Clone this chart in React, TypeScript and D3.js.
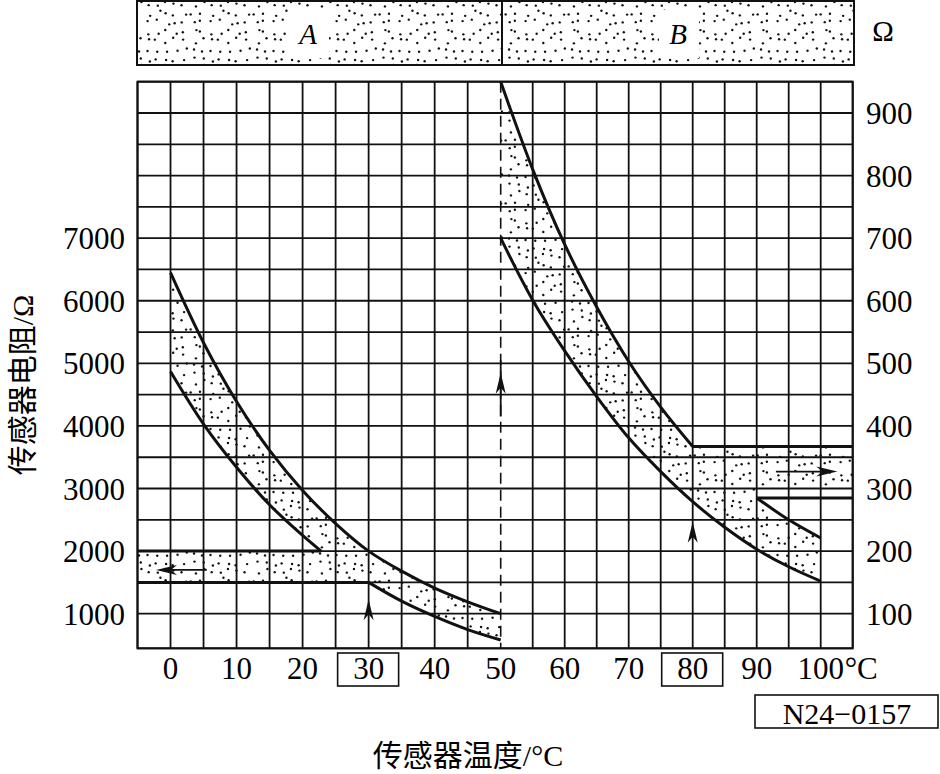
import React from 'react';
import * as d3 from 'd3';

// ---- axis ticks ----
const xTicks = [0, 10, 20, 30, 40, 50, 60, 70, 80, 90, 100];
const boxedTicks = [30, 80];
const leftTicks = [1000, 2000, 3000, 4000, 5000, 6000, 7000];
const rightTicks = [100, 200, 300, 400, 500, 600, 700, 800, 900];
const gridX = d3.range(-5, 106, 5);
const gridY = d3.range(500, 9501, 500);

// ---- sensor A (left axis, Ω) ----
const upperATemp = [0, 5, 10, 15, 20, 25, 30, 35, 40, 45, 50];
const upperAVal = [6450, 5330, 4390, 3610, 2970, 2440, 2000, 1680, 1410, 1190, 1000];
const lowerA1Temp = [0, 5, 10, 15, 20, 22.8];
const lowerA1Val = [4870, 4030, 3340, 2740, 2250, 2000];
const lowerA2Temp = [30, 35, 40, 45, 50];
const lowerA2Val = [1500, 1200, 960, 770, 620];
const bandA = { top: 2000, bottom: 1500, topEnd: 22.8, bottomEnd: 30 };

// ---- sensor B (right axis, Ω) ----
const upperBTemp = [50, 55, 60, 65, 70, 75, 80];
const upperBVal = [950, 810, 690, 590, 503, 430, 367];
const lowerBTemp = [50, 55, 60, 65, 70, 75, 80, 85, 90, 95, 100];
const lowerBVal = [700, 601, 520, 447, 381, 327, 279, 238, 203, 175, 152];
const upperB2Temp = [90, 95, 100];
const upperB2Val = [285, 250, 221];
const bandB = { top: 367, bottom: 300, start: 80, lowLine: 285, lowStart: 90 };

// ---- arrows ----
const upArrows = [
  { t: 30, tipL: 1230 },
  { t: 50, tipL: 4850 },
  { t: 80, tipL: 2470 },
];
const leftArrow = { from: 5.5, to: -2.2, v: 1700 };
const rightArrow = { from: 93, to: 102.6, v: 327 };

const FONT = '"Liberation Serif", "Times New Roman", serif';
const CJK = '"Liberation Serif", "Noto Sans CJK SC", serif';

// decorative stipple texture (not data)
function hash(a: number) {
  const v = Math.sin(a) * 43758.5453;
  return v - Math.floor(v);
}
const TILE = 63;
const dotCells = d3.range(49).map((k) => {
  const i = k % 7;
  const j = Math.floor(k / 7);
  return { cx: i * 9 + 1.5 + hash(k * 12.9898 + 1.3) * 6, cy: j * 9 + 1.5 + hash(k * 78.233 + 4.7) * 6 };
});

export default function App() {
  const x = d3.scaleLinear().domain([-5, 50, 105]).range([137.5, 500.7, 852.7]);
  const yL = d3.scaleLinear().domain([500, 1000, 9500]).range([648.3, 613.7, 81.7]);
  const yR = d3.scaleLinear().domain([50, 100, 950]).range([648.3, 613.7, 81.7]);

  const curve = d3.curveCatmullRom.alpha(0.5);
  const lineL = d3.line<[number, number]>().x((d) => x(d[0])).y((d) => yL(d[1])).curve(curve);
  const lineR = d3.line<[number, number]>().x((d) => x(d[0])).y((d) => yR(d[1])).curve(curve);

  const zip = (t: number[], v: number[]) => t.map((tt, i) => [tt, v[i]] as [number, number]);
  const upA = zip(upperATemp, upperAVal);
  const loA1 = zip(lowerA1Temp, lowerA1Val);
  const loA2 = zip(lowerA2Temp, lowerA2Val);
  const upB = zip(upperBTemp, upperBVal);
  const loB = zip(lowerBTemp, lowerBVal);
  const upB2 = zip(upperB2Temp, upperB2Val);

  const cont = (s: string | null) => 'L' + (s || '').slice(1);
  const P = (t: number, v: number, sc: any) => `L${x(t)},${sc(v)}`;

  const shadeA =
    lineL(upA) +
    cont(lineL([...loA2].reverse())) +
    P(-5, bandA.bottom, yL) +
    P(-5, bandA.top, yL) +
    P(bandA.topEnd, bandA.top, yL) +
    cont(lineL([...loA1].reverse())) +
    'Z';

  const shadeB =
    lineR(upB) +
    P(105, bandB.top, yR) +
    P(105, bandB.bottom, yR) +
    P(bandB.lowStart, bandB.bottom, yR) +
    P(bandB.lowStart, bandB.lowLine, yR) +
    cont(lineR(upB2)) +
    cont(lineR([...loB].reverse())) +
    'Z';

  const stroke = '#111';
  const arrowHead = (tx: number, ty: number, angle: number, key: string) => (
    <path
      key={key}
      d="M0,0 L-21,-5 L-15,0 L-21,5 Z"
      transform={`translate(${tx},${ty}) rotate(${angle})`}
      fill={stroke}
    />
  );

  const top = yL(9500);
  const bottom = yL(500);

  return (
    <svg width={940} height={774} style={{ position: 'absolute', left: 0, top: 0, background: '#fff' }}>
      <defs>
        <pattern id="dots" width={TILE} height={TILE} patternUnits="userSpaceOnUse">
          {dotCells.map((d, k) => (
            <circle key={k} cx={d.cx} cy={d.cy} r={1.2} fill="#111" />
          ))}
        </pattern>
      </defs>
      <rect x={0} y={0} width={940} height={774} fill="#fff" />

      {/* top legend bar */}
      <rect x={137} y={1} width={717} height={64} fill="url(#dots)" />
      <rect x={289} y={10} width={40} height={48} fill="#fff" />
      <rect x={659} y={10} width={40} height={48} fill="#fff" />
      <rect x={137} y={1} width={717} height={64} fill="none" stroke={stroke} strokeWidth={2} />
      <line x1={502} x2={502} y1={1} y2={65} stroke={stroke} strokeWidth={2} />
      <text x={308} y={44} fontFamily={FONT} fontStyle="italic" fontSize={29} textAnchor="middle">A</text>
      <text x={678} y={44} fontFamily={FONT} fontStyle="italic" fontSize={29} textAnchor="middle">B</text>
      <text x={883} y={41} fontFamily={FONT} fontSize={29} textAnchor="middle">Ω</text>

      {/* grid */}
      {gridY.map((v) => (
        <line key={'h' + v} x1={x(-5)} x2={x(105)} y1={yL(v)} y2={yL(v)} stroke={stroke} strokeWidth={1.8} />
      ))}
      {gridX.map((t) =>
        t === 50 ? (
          <line key={'v' + t} x1={x(t)} x2={x(t)} y1={top} y2={bottom} stroke={stroke} strokeWidth={1.6} strokeDasharray="11 6" />
        ) : (
          <line key={'v' + t} x1={x(t)} x2={x(t)} y1={top} y2={bottom} stroke={stroke} strokeWidth={1.8} />
        )
      )}

      {/* shading */}
      <path d={shadeA} fill="url(#dots)" stroke="none" />
      <path d={shadeB} fill="url(#dots)" stroke="none" />

      {/* curves */}
      <g fill="none" stroke={stroke} strokeWidth={3}>
        <path d={lineL(upA) || ''} />
        <path d={lineL(loA1) || ''} />
        <path d={lineL(loA2) || ''} />
        <line x1={x(-5)} x2={x(bandA.topEnd)} y1={yL(bandA.top)} y2={yL(bandA.top)} />
        <line x1={x(-5)} x2={x(bandA.bottomEnd)} y1={yL(bandA.bottom)} y2={yL(bandA.bottom)} />
        <path d={lineR(upB) || ''} />
        <path d={lineR(loB) || ''} />
        <path d={lineR(upB2) || ''} />
        <line x1={x(bandB.start)} x2={x(105)} y1={yR(bandB.top)} y2={yR(bandB.top)} />
        <line x1={x(bandB.lowStart)} x2={x(105)} y1={yR(bandB.lowLine)} y2={yR(bandB.lowLine)} />
      </g>

      {/* arrows */}
      <line x1={x(50)} x2={x(50)} y1={yL(5050)} y2={yL(4150)} stroke={stroke} strokeWidth={1.8} />
      {upArrows.map((a) => arrowHead(x(a.t), yL(a.tipL), -90, 'u' + a.t))}
      <line x1={x(leftArrow.from)} x2={x(leftArrow.to) + 10} y1={yL(leftArrow.v)} y2={yL(leftArrow.v)} stroke={stroke} strokeWidth={1.8} />
      {arrowHead(x(leftArrow.to), yL(leftArrow.v), 180, 'la')}
      <line x1={x(rightArrow.from)} x2={x(rightArrow.to) - 10} y1={yR(rightArrow.v)} y2={yR(rightArrow.v)} stroke={stroke} strokeWidth={1.8} />
      {arrowHead(x(rightArrow.to), yR(rightArrow.v), 0, 'ra')}

      {/* border */}
      <rect x={x(-5)} y={top} width={x(105) - x(-5)} height={bottom - top} fill="none" stroke={stroke} strokeWidth={2} />

      {/* ticks */}
      {leftTicks.map((v) => (
        <text key={'l' + v} x={125} y={yL(v) + 11} fontFamily={FONT} fontSize={31} textAnchor="end">{v}</text>
      ))}
      {rightTicks.map((v) => (
        <text key={'r' + v} x={866} y={yR(v) + 11} fontFamily={FONT} fontSize={31} textAnchor="start">{v}</text>
      ))}
      {xTicks.map((t) => (
        <text key={'x' + t} x={x(t)} y={679} fontFamily={FONT} fontSize={31} textAnchor="middle">{t}</text>
      ))}
      <text x={x(100) + 24} y={679} fontFamily={FONT} fontSize={31} textAnchor="start">°C</text>
      {boxedTicks.map((t) => (
        <rect key={'b' + t} x={x(t) - 31} y={653} width={61} height={33} fill="none" stroke={stroke} strokeWidth={1.6} />
      ))}

      {/* titles */}
      <text transform="translate(33,385) rotate(-90)" fontFamily={CJK} fontSize={30} textAnchor="middle">传感器电阻/Ω</text>
      <text x={468} y={766} fontFamily={CJK} fontSize={30} textAnchor="middle">传感器温度/°C</text>

      {/* figure id */}
      <rect x={755} y={695} width={183} height={33} fill="none" stroke={stroke} strokeWidth={1.6} />
      <text x={847} y={724} fontFamily={FONT} fontSize={30} textAnchor="middle">N24−0157</text>
    </svg>
  );
}
